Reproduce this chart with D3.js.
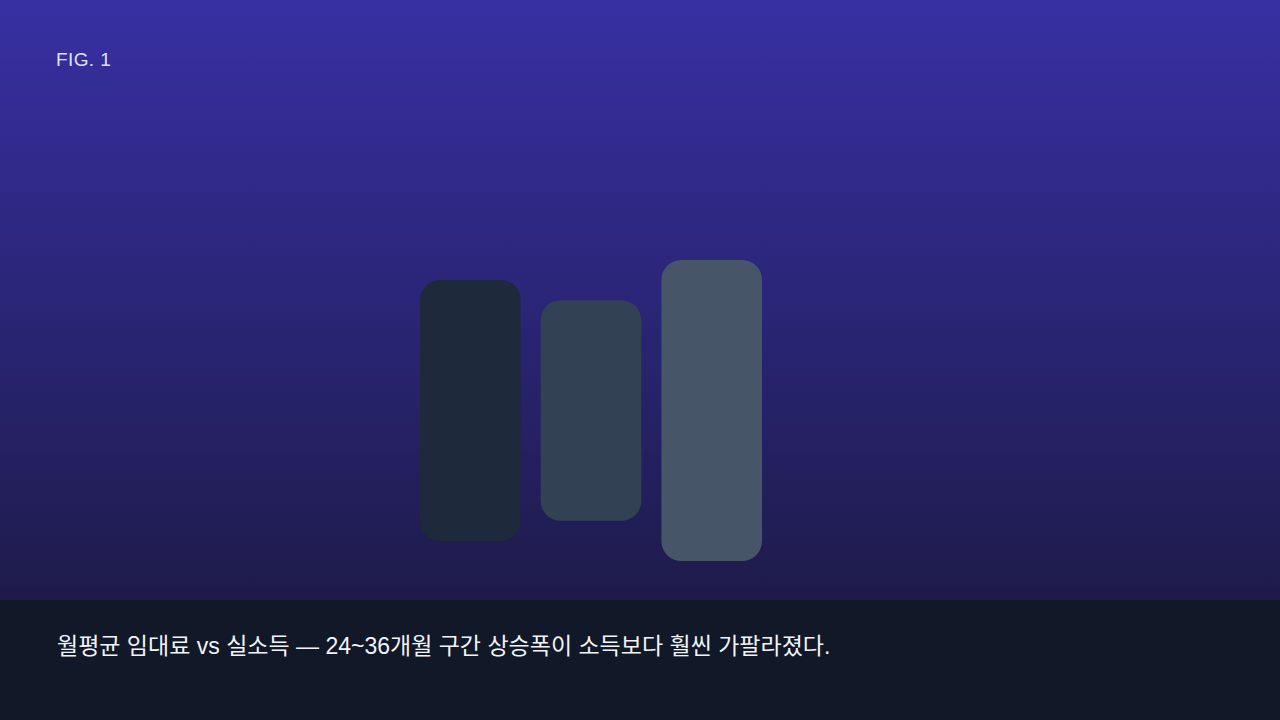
<!DOCTYPE html>
<html>
<head>
<meta charset="utf-8">
<script src="https://cdn.jsdelivr.net/npm/d3@7"></script>
<style>
  html, body { margin: 0; padding: 0; background: #1e1b4b; }
  svg { display: block; }
</style>
</head>
<body>
<svg id="chart" width="1280" height="720"></svg>
<script>
// ---- data ----
const categories = ["임대료", "실소득", "격차"];
const values = [26, 22, 30];
const barColors = ["#1e293b", "#334155", "#475569"];
const figLabel = "FIG. 1";
const caption = "월평균 임대료 vs 실소득 — 24~36개월 구간 상승폭이 소득보다 훨씬 가팔라졌다.";

// ---- layout ----
const W = 1280, H = 720;
const svg = d3.select("#chart");
const defs = svg.append("defs");
const grad = defs.append("linearGradient")
  .attr("id", "bg").attr("x1", 0).attr("y1", 0).attr("x2", 0).attr("y2", 1);
grad.append("stop").attr("offset", "0%").attr("stop-color", "#3730a3");
grad.append("stop").attr("offset", "100%").attr("stop-color", "#1e1b4b");

svg.append("rect").attr("x", 0).attr("y", 0).attr("width", W).attr("height", 600)
  .attr("fill", "url(#bg)");
svg.append("rect").attr("x", 0).attr("y", 600).attr("width", W).attr("height", 120)
  .attr("fill", "#111827");

const x = d3.scaleBand().domain(categories).range([420, 762])
  .paddingInner(1 / 6).paddingOuter(0);
const h = d3.scaleLinear().domain([0, 30]).range([0, 301]);
const centerY = 410.5;

svg.append("g").selectAll("rect")
  .data(categories)
  .join("rect")
  .attr("x", d => x(d))
  .attr("width", x.bandwidth())
  .attr("y", (d, i) => centerY - h(values[i]) / 2)
  .attr("height", (d, i) => h(values[i]))
  .attr("rx", 20).attr("ry", 20)
  .attr("fill", (d, i) => barColors[i]);

svg.append("text")
  .attr("x", 56).attr("y", 66)
  .attr("font-family", "'Liberation Sans', Arial, sans-serif")
  .attr("font-size", 19)
  .attr("letter-spacing", 0.4)
  .attr("fill", "#dfe2fb")
  .text(figLabel);

svg.append("text")
  .attr("x", 57).attr("y", 654)
  .attr("font-family", "'Liberation Sans', Arial, 'Noto Sans CJK KR', sans-serif")
  .attr("font-size", 23)
  .attr("fill", "#f1f5f9")
  .text(caption);
</script>
</body>
</html>
